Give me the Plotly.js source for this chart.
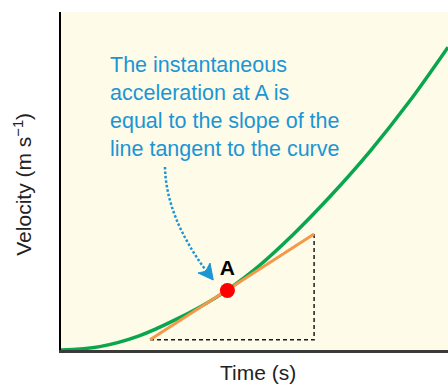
<!DOCTYPE html>
<html>
<head>
<meta charset="utf-8">
<script src="https://cdn.plot.ly/plotly-3.0.1.min.js"></script>
<style>
html,body{margin:0;padding:0;background:#fff;}
#chart{width:448px;height:385px;}
</style>
</head>
<body>
<div id="chart"></div>
<script>
// Velocity–time curve (arbitrary units)
const time = [0, 1, 2, 3, 4, 5, 6, 7, 8, 9, 10];
const velocity = [0, 0.10, 0.41, 0.92, 1.55, 2.38, 3.42, 4.60, 5.90, 7.35, 8.96];

// Point A on the curve
const pointT = [4.30];
const pointV = [1.76];
const pointLabel = ['A'];

// Tangent line at A
const tangentT = [2.30, 6.54];
const tangentV = [0.30, 3.43];

// Right-angle triangle under the tangent (built from the tangent ends)
const triT = [tangentT[0], tangentT[1], tangentT[1]];
const triV = [tangentV[0], tangentV[0], tangentV[1]];

const noteText = 'The instantaneous<br>acceleration at A is<br>equal to the slope of the<br>line tangent to the curve';
const xTitle = 'Time (s)';
const yTitle = 'Velocity (m s<sup>−1</sup>)';

const FONT = 'Liberation Sans, Arial, sans-serif';
const BLUE = '#1a96d4';

const traces = [
  {x: triT, y: triV, mode: 'lines', line: {color: '#1a1a1a', width: 1.5, dash: '4px,3px'}, hoverinfo: 'skip'},
  {x: time, y: velocity, mode: 'lines', line: {color: '#0aa64e', width: 3.5, shape: 'spline', smoothing: 1}, hoverinfo: 'skip'},
  {x: tangentT, y: tangentV, mode: 'lines', line: {color: '#f39a4a', width: 3}, hoverinfo: 'skip'},
  {x: pointT, y: pointV, mode: 'markers+text', text: pointLabel, textposition: 'top center',
   textfont: {family: FONT, size: 21, color: '#000', weight: 'bold'},
   marker: {color: '#ff0000', size: 15}, hoverinfo: 'skip'}
];

const layout = {
  width: 448, height: 385,
  margin: {l: 61, r: 0, t: 12, b: 35},
  paper_bgcolor: '#ffffff',
  plot_bgcolor: '#fffbe9',
  showlegend: false,
  font: {family: FONT, color: '#222'},
  xaxis: {range: [0, 10], showgrid: false, zeroline: false, showticklabels: false, ticks: '',
          showline: true, linecolor: '#3a3a3a', linewidth: 3, fixedrange: true},
  yaxis: {range: [0, 10], showgrid: false, zeroline: false, showticklabels: false, ticks: '',
          showline: true, linecolor: '#000', linewidth: 2, fixedrange: true},
  annotations: [
    {xref: 'paper', yref: 'paper', x: 0.121, y: 0.719, xanchor: 'left', yanchor: 'middle', align: 'left',
     text: noteText, showarrow: false, font: {family: FONT, size: 21.5, color: BLUE}},
    {xref: 'paper', yref: 'paper', x: 0.510, y: -0.067, xanchor: 'center', yanchor: 'middle', borderpad: 0,
     text: xTitle, showarrow: false, font: {family: FONT, size: 21, color: '#222'}},
    {xref: 'paper', yref: 'paper', x: -0.099, y: 0.491, xanchor: 'center', yanchor: 'middle', textangle: -90,
     text: yTitle, showarrow: false, font: {family: FONT, size: 21, color: '#222'}}
  ],
  shapes: [
    {type: 'path', xref: 'x', yref: 'y', path: 'M 2.687 5.414 Q 2.713 3.935 3.773 2.308',
     line: {color: BLUE, width: 2.5, dash: '2.5px,2px'}},
    {type: 'path', xref: 'x', yref: 'y', path: 'M 3.935 2.071 L 3.540 2.278 L 3.740 2.330 L 3.850 2.574 Z',
     fillcolor: BLUE, line: {color: BLUE, width: 1}}
  ]
};

Plotly.newPlot('chart', traces, layout, {staticPlot: true, displayModeBar: false});
</script>
</body>
</html>
